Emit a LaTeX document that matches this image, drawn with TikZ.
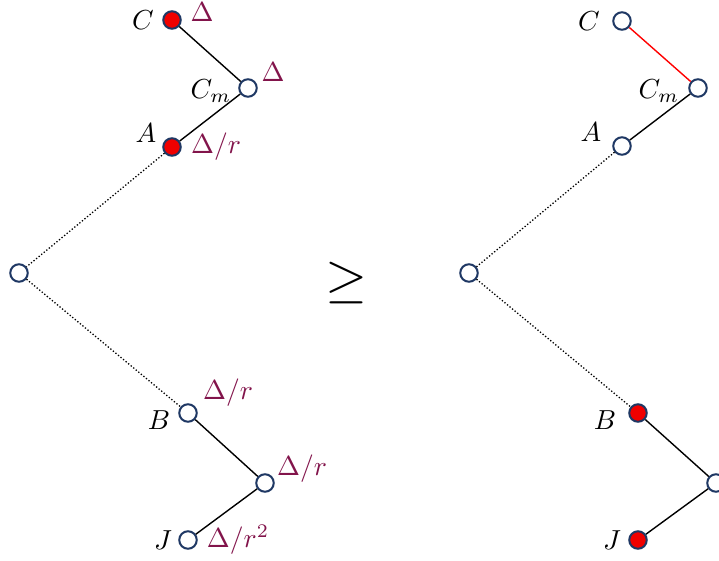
\documentclass[tikz,border=0pt]{standalone}
\usepackage{graphicx}
\definecolor{nodeblue}{RGB}{31,56,100}
\definecolor{lblred}{RGB}{130,20,75}
\definecolor{fillred}{RGB}{240,0,0}
\newcommand{\lbl}[1]{\scalebox{2.75}{$#1$}}
\begin{document}
\begin{tikzpicture}[x=1pt,y=-1pt,
  vtx/.style={circle,draw=nodeblue,line width=2pt,minimum size=17.5pt,inner sep=0pt,fill=white},
  hot/.style={vtx,fill=fillred},
  edge/.style={line width=1.4pt,black},
  dots/.style={line width=1.3pt,black,dotted},
  nm/.style={inner sep=0pt},
  val/.style={inner sep=0pt,text=lblred}]
\useasboundingbox (0,0) rectangle (719,560);
% left tree
\node[hot] (LC) at (172,20) {};
\node[vtx] (LCm) at (248,88) {};
\node[hot] (LA) at (172,147) {};
\node[vtx] (Lroot) at (19,273) {};
\node[vtx] (LB) at (188,413) {};
\node[vtx] (LM) at (265,483) {};
\node[vtx] (LJ) at (188,540) {};
\draw[edge] (LC) -- (LCm);
\draw[edge] (LCm) -- (LA);
\draw[dots] (LA) -- (Lroot);
\draw[dots] (Lroot) -- (LB);
\draw[edge] (LB) -- (LM);
\draw[edge] (LM) -- (LJ);
\node[nm] (lC) at (143,20) {\lbl{C}};
\node[nm] (lCm) at (211,91) {\lbl{C_m}};
\node[nm] (lA) at (146,133) {\lbl{A}};
\node[nm] (lB) at (159,420) {\lbl{B}};
\node[nm] (lJ) at (163,540) {\lbl{J}};
\node[val] (vC) at (202,12) {\lbl{\Delta}};
\node[val] (vCm) at (273,72) {\lbl{\Delta}};
\node[val] (vA) at (216,147) {\lbl{\Delta/r}};
\node[val] (vB) at (228,393) {\lbl{\Delta/r}};
\node[val] (vM) at (302,469) {\lbl{\Delta/r}};
\node[val] (vJ) at (238,540) {\lbl{\Delta/r^2}};
% geq
\node[inner sep=0pt] (geq) at (346,283) {\scalebox{5.4}{$\geq$}};
% right tree
\node[vtx] (RC) at (622,21) {};
\node[vtx] (RCm) at (698,88) {};
\node[vtx] (RA) at (622,146) {};
\node[vtx] (Rroot) at (469,273) {};
\node[hot] (RB) at (638,413) {};
\node[vtx] (RM) at (716,483) {};
\node[hot] (RJ) at (638,540) {};
\draw[edge,red] (RC) -- (RCm);
\draw[edge] (RCm) -- (RA);
\draw[dots] (RA) -- (Rroot);
\draw[dots] (Rroot) -- (RB);
\draw[edge] (RB) -- (RM);
\draw[edge] (RM) -- (RJ);
\node[nm] (rC) at (589,21) {\lbl{C}};
\node[nm] (rCm) at (659,91) {\lbl{C_m}};
\node[nm] (rA) at (591,132) {\lbl{A}};
\node[nm] (rB) at (605,420) {\lbl{B}};
\node[nm] (rJ) at (612,540) {\lbl{J}};
\end{tikzpicture}
\end{document}
